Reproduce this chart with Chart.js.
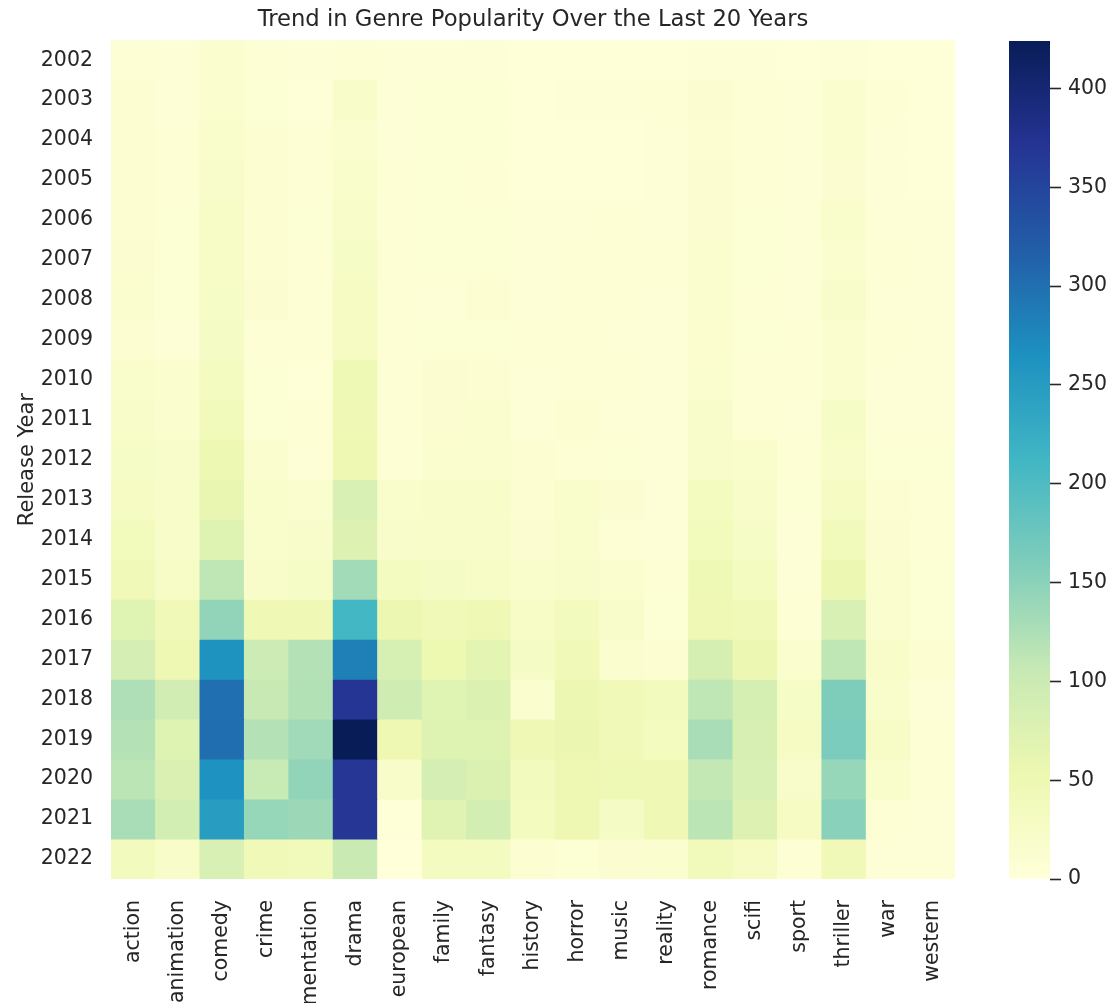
<!DOCTYPE html>
<html>
<head>
<meta charset="utf-8">
<script src="https://cdn.jsdelivr.net/npm/chart.js@4.4.0/dist/chart.umd.min.js"></script>
<style>
  html, body { margin: 0; padding: 0; background: #fff; overflow: hidden; }
  #wrap { position: relative; width: 1111px; height: 1003px; }
  #heat { position: absolute; left: 0; top: 0; }
  #cbar { position: absolute; left: 990px; top: 0; }
</style>
</head>
<body>
<div id="wrap">
  <canvas id="heat" width="1066" height="1003"></canvas>
  <canvas id="cbar" width="121" height="1003"></canvas>
</div>
<script>
// rows (top to bottom)
const years = ["2002", "2003", "2004", "2005", "2006", "2007", "2008", "2009", "2010", "2011",
  "2012", "2013", "2014", "2015", "2016", "2017", "2018", "2019", "2020", "2021", "2022"];

// columns
const genres = ["action", "animation", "comedy", "crime", "documentation", "drama", "european",
  "family", "fantasy", "history", "horror", "music", "reality", "romance", "scifi", "sport",
  "thriller", "war", "western"];

// one array per genre, 2002 -> 2022
const action        = [6, 10, 10, 9, 9, 12, 16, 10, 18, 22, 26, 30, 38, 42, 72, 88, 124, 120, 114, 128, 36];
const animation     = [4, 4, 7, 7, 8, 8, 8, 4, 14, 16, 20, 22, 22, 24, 42, 50, 92, 74, 80, 90, 22];
const comedy        = [14, 16, 18, 20, 24, 24, 26, 28, 32, 40, 52, 60, 74, 112, 145, 262, 300, 302, 264, 248, 82];
const crime         = [6, 8, 9, 9, 9, 10, 12, 6, 8, 8, 14, 18, 18, 22, 48, 98, 105, 120, 104, 142, 44];
const documentation = [4, 2, 6, 7, 8, 7, 7, 6, 3, 6, 4, 16, 20, 26, 48, 120, 121, 134, 145, 138, 40];
const drama         = [6, 22, 14, 18, 22, 26, 30, 30, 46, 48, 50, 82, 75, 133, 210, 283, 370, 424, 368, 368, 102];
const european      = [4, 5, 5, 6, 7, 7, 6, 6, 6, 6, 7, 18, 20, 32, 55, 85, 95, 50, 22, 3, 0];
const family        = [4, 8, 8, 8, 8, 8, 4, 8, 12, 12, 16, 22, 22, 28, 45, 53, 72, 74, 88, 70, 32];
const fantasy       = [5, 8, 8, 7, 8, 8, 10, 8, 10, 16, 14, 22, 22, 24, 48, 66, 78, 74, 78, 90, 32];
const history       = [2, 3, 2, 3, 4, 4, 4, 6, 5, 5, 10, 10, 12, 18, 24, 28, 16, 48, 36, 34, 10];
const horror        = [2, 5, 3, 3, 4, 6, 6, 7, 7, 10, 6, 18, 18, 20, 36, 44, 55, 56, 50, 50, 8];
const music         = [2, 4, 3, 3, 7, 6, 6, 4, 6, 5, 8, 12, 6, 16, 20, 14, 44, 42, 46, 28, 12];
const reality       = [2, 6, 5, 5, 5, 6, 4, 5, 5, 5, 4, 4, 4, 6, 8, 10, 36, 34, 48, 48, 16];
const romance       = [4, 12, 10, 12, 12, 14, 16, 13, 14, 20, 20, 34, 38, 46, 48, 86, 112, 128, 108, 114, 40];
const scifi         = [4, 6, 6, 7, 8, 8, 7, 8, 7, 7, 18, 22, 26, 32, 44, 54, 86, 84, 82, 76, 30];
const sport         = [2, 4, 4, 4, 4, 5, 5, 6, 6, 4, 6, 8, 4, 4, 6, 14, 26, 30, 20, 30, 6];
const thriller      = [5, 16, 14, 12, 18, 16, 20, 16, 16, 26, 22, 30, 40, 54, 82, 112, 160, 162, 142, 152, 42];
const war           = [2, 6, 4, 5, 4, 6, 5, 6, 5, 5, 8, 10, 12, 16, 16, 22, 18, 24, 18, 6, 5];
const western       = [2, 3, 3, 3, 4, 4, 4, 4, 4, 5, 8, 6, 6, 8, 8, 10, 5, 6, 6, 4, 4];

const genreValues = [action, animation, comedy, crime, documentation, drama, european, family,
  fantasy, history, horror, music, reality, romance, scifi, sport, thriller, war, western];

// colour bar ticks
const cbarTicks = [0, 50, 100, 150, 200, 250, 300, 350, 400];

const vmax = Math.max(...genreValues.flat());

// YlGnBu colour stops
const ylgnbu = [[255, 255, 217], [237, 248, 177], [199, 233, 180], [127, 205, 187], [65, 182, 196],
  [29, 145, 192], [34, 94, 168], [37, 52, 148], [8, 29, 88]];

const rgb = (c) => "rgb(" + c.map(Math.round).join(",") + ")";

const cmap = (t) => {
  t = Math.max(0, Math.min(1, t));
  var x = t * 8;
  var i = Math.min(7, Math.floor(x));
  var f = x - i;
  var a = ylgnbu[i], b = ylgnbu[i + 1];
  return rgb([0, 1, 2].map((k) => a[k] + (b[k] - a[k]) * f));
};

const textColor = "#262626";
const fontFamily = "'DejaVu Sans', sans-serif";
const tickSize = 20.5;

// every row is a stack of unit-height bars, coloured by value
var datasets = years.map(function (yr, r) {
  return {
    label: yr,
    data: genres.map(() => 1),
    backgroundColor: genreValues.map((col) => cmap(col[r] / vmax)),
    borderWidth: 0,
    barPercentage: 1,
    categoryPercentage: 1,
  };
});

var heat = new Chart(document.getElementById("heat").getContext("2d"), {
  type: "bar",
  data: { labels: genres, datasets: datasets },
  options: {
    responsive: false,
    animation: false,
    events: [],
    plugins: {
      legend: { display: false },
      tooltip: { enabled: false },
      title: {
        display: true,
        text: "Trend in Genre Popularity Over the Last 20 Years",
        color: textColor,
        font: { family: fontFamily, size: 22.7, weight: "normal" },
        padding: { top: 6, bottom: 7 },
      },
    },
    scales: {
      x: {
        stacked: true,
        grid: { display: false, drawTicks: false },
        border: { display: false },
        ticks: {
          color: textColor,
          font: { family: fontFamily, size: tickSize },
          minRotation: 90,
          maxRotation: 90,
          autoSkip: false,
          padding: 21,
        },
        afterFit: (s) => { s.height = 124; },
      },
      y: { stacked: true, min: 0, max: years.length, reverse: true, display: false },
      yYears: {
        type: "category",
        labels: years,
        position: "left",
        offset: true,
        grid: { display: false, drawTicks: false },
        border: { display: false },
        ticks: { color: textColor, font: { family: fontFamily, size: tickSize }, padding: 18 },
        title: {
          display: true,
          text: "Release Year",
          color: textColor,
          font: { family: fontFamily, size: 21 },
          padding: { top: 15, bottom: 0 },
        },
        afterFit: (s) => { s.width = 111; },
      },
      // spacer so the title centres over the heatmap like the original
      pad: {
        type: "linear",
        position: "right",
        ticks: { display: false },
        grid: { display: false, drawTicks: false },
        border: { display: false },
        afterFit: (s) => { s.width = 111; },
      },
    },
  },
});

// colour bar
var cbar = new Chart(document.getElementById("cbar").getContext("2d"), {
  type: "bar",
  data: {
    labels: [""],
    datasets: [
      {
        data: [[0, vmax]],
        backgroundColor: function (ctx) {
          var chart = ctx.chart;
          if (!chart.chartArea) return null;
          var ys = chart.scales.y;
          var g = chart.ctx.createLinearGradient(0, ys.getPixelForValue(0), 0, ys.getPixelForValue(vmax));
          ylgnbu.forEach((c, i) => g.addColorStop(i / 8, rgb(c)));
          return g;
        },
        borderWidth: 0,
        barPercentage: 1,
        categoryPercentage: 1,
      },
    ],
  },
  options: {
    responsive: false,
    animation: false,
    events: [],
    layout: { padding: { left: 19, top: 41, bottom: 124, right: 0 } },
    plugins: { legend: { display: false }, tooltip: { enabled: false } },
    scales: {
      x: { display: false },
      y: {
        position: "right",
        min: 0,
        max: vmax,
        afterBuildTicks: (s) => { s.ticks = cbarTicks.map((v) => ({ value: v })); },
        ticks: { color: textColor, font: { family: fontFamily, size: tickSize }, padding: 7 },
        grid: { drawOnChartArea: false, tickLength: 11, tickWidth: 1.6, tickColor: textColor },
        border: { display: false },
        afterFit: (s) => { s.width = 61; },
      },
    },
  },
});
</script>
</body>
</html>
